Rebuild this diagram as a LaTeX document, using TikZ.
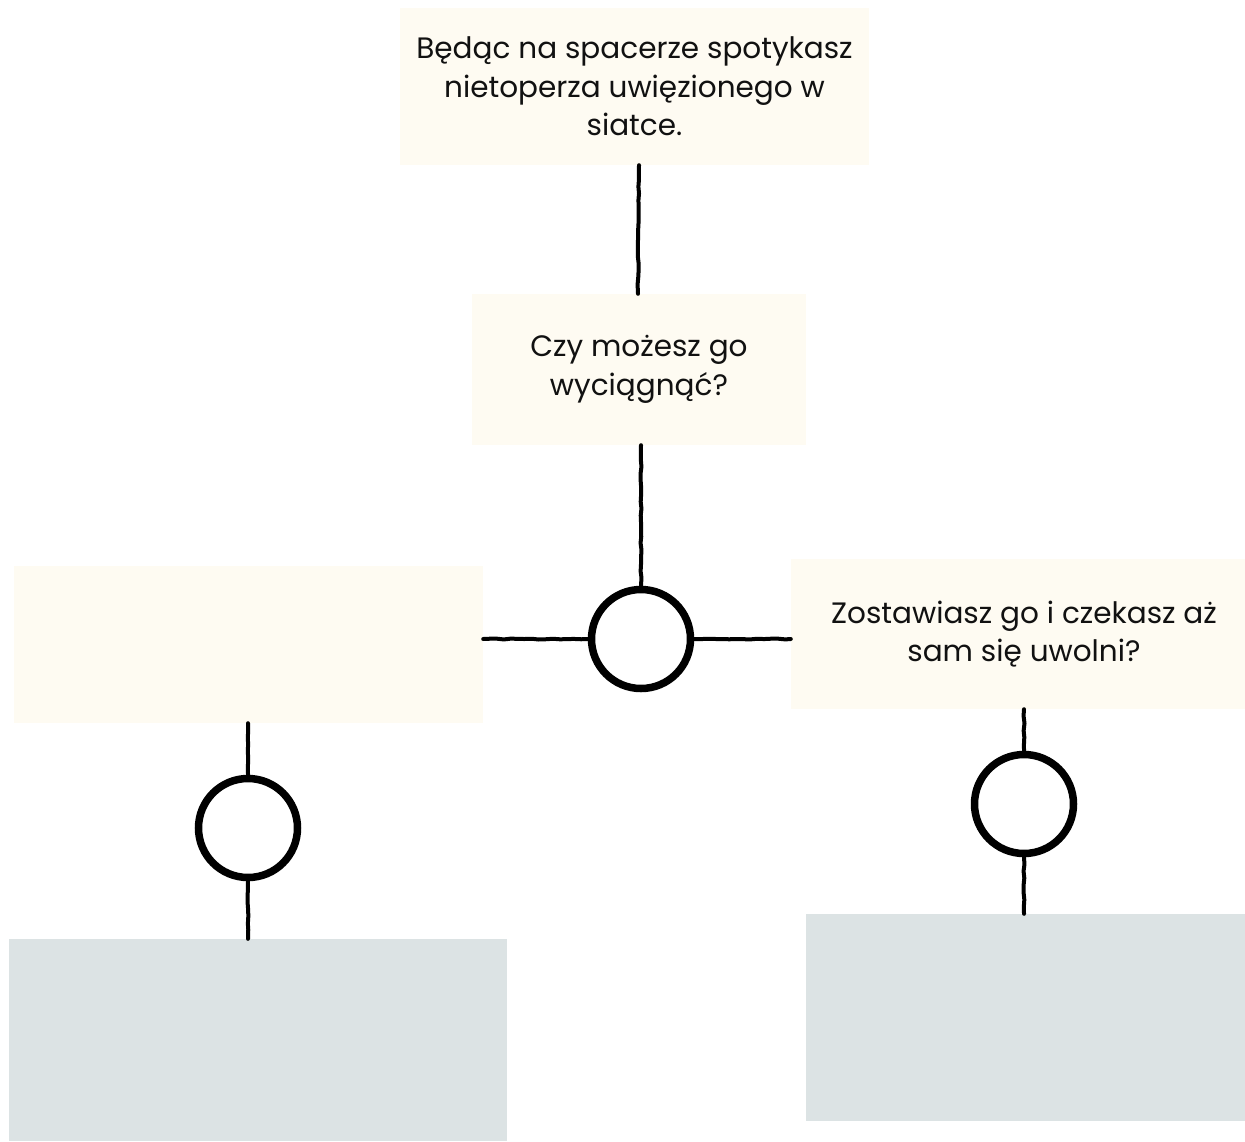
\documentclass[tikz,border=0pt]{standalone}
\usepackage{fontspec}
\setmainfont{Poppins}
\usetikzlibrary{decorations.pathmorphing}
\definecolor{cream}{HTML}{FEFBF2}
\definecolor{slate}{HTML}{DCE3E4}
\definecolor{ink}{HTML}{111111}
\begin{document}
\begin{tikzpicture}[x=1pt,y=-1pt,
  box/.style={rectangle,fill=cream,draw=none,inner sep=0pt,align=center,
    font=\fontsize{29.5pt}{38.5pt}\selectfont,text=ink},
  greybox/.style={rectangle,fill=slate,draw=none,inner sep=0pt},
  ring/.style={circle,draw=black,line width=7.5pt,fill=white,minimum size=99pt,inner sep=0pt},
  link/.style={draw=black,line width=4pt,line cap=round,
    decorate,decoration={random steps,segment length=7pt,amplitude=0.5pt}}]
\useasboundingbox[fill=white] (0,0) rectangle (1245,1141);
\node[box,minimum width=469pt,minimum height=157pt] (top) at (634.5,86.5)
  {Będąc na spacerze spotykasz\\nietoperza uwięzionego w\\siatce.};
\node[box,minimum width=334pt,minimum height=151pt] (q) at (639,369.5)
  {Czy możesz go\\wyciągnąć?};
\node[box,minimum width=469pt,minimum height=157pt] (left) at (248.5,644.5) {};
\node[box,minimum width=454pt,minimum height=150pt] (right) at (1018,634)
  {\hspace*{12pt}Zostawiasz go i czekasz aż\\\hspace*{12pt}sam się uwolni?};
\node[greybox,minimum width=498pt,minimum height=202pt] (gl) at (258,1040) {};
\node[greybox,minimum width=439pt,minimum height=207pt] (gr) at (1025.5,1017.5) {};
\node[ring] (c1) at (641,639) {};
\node[ring] (c2) at (248,828) {};
\node[ring] (c3) at (1024,804) {};
\coordinate (topend) at ([xshift=-2pt]top.south -| c1.center);
\coordinate (qtop) at ([xshift=-3pt]q.north -| c1.center);
\draw[link] (topend) -- (qtop);
\draw[link] (q.south -| c1.center) -- (c1.north);
\draw[link] (c1.west) -- (left.east |- c1.west);
\draw[link] (c1.east) -- (right.west |- c1.east);
\draw[link] (left.south -| c2.center) -- (c2.north);
\draw[link] (c2.south) -- (gl.north -| c2.center);
\draw[link] (right.south -| c3.center) -- (c3.north);
\draw[link] (c3.south) -- (gr.north -| c3.center);
\end{tikzpicture}
\end{document}
